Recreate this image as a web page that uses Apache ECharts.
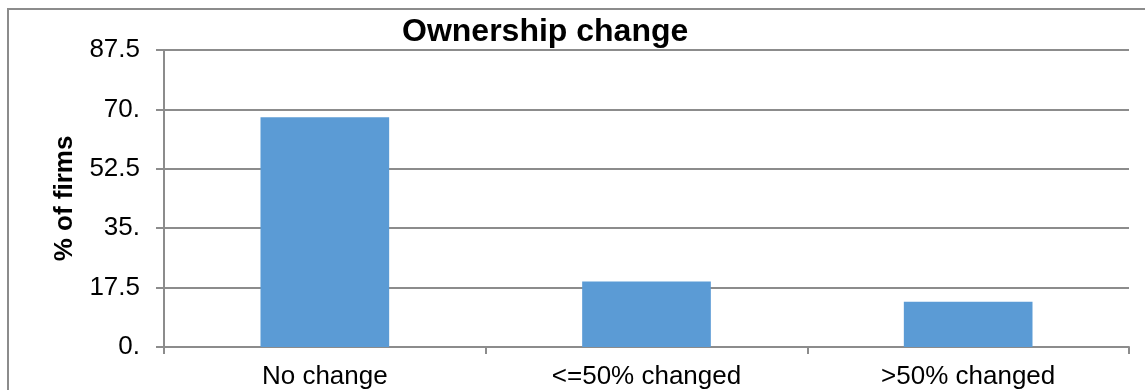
<!DOCTYPE html>
<html>
<head>
<meta charset="utf-8">
<script src="https://cdn.jsdelivr.net/npm/echarts@6/dist/echarts.min.js"></script>
<style>
  html, body { margin: 0; padding: 0; background: #ffffff; }
  #chart { width: 1145px; height: 390px; }
</style>
</head>
<body>
<div id="chart"></div>
<script>
// Share of firms by type of ownership change
const categories = ['No change', '<=50% changed', '>50% changed'];
const percentFirms = [67.7, 19.3, 13.3];
const yTickLabels = ['0.', '17.5', '35.', '52.5', '70.', '87.5'];

const gray = '#8c8c8c';
const font = '"Liberation Sans", Arial, sans-serif';

const chart = echarts.init(document.getElementById('chart'));
chart.setOption({
  animation: false,
  backgroundColor: '#ffffff',
  title: {
    text: 'Ownership change',
    left: 397,
    top: 11,
    textStyle: { fontFamily: font, fontSize: 32, fontWeight: 'bold', color: '#000000' }
  },
  graphic: [{
    type: 'rect',
    shape: { x: 8, y: 9, width: 1200, height: 500 },
    style: { fill: 'none', stroke: gray, lineWidth: 2 },
    silent: true,
    z: -1
  }],
  grid: { left: 164, right: 16, top: 50, bottom: 42.5, containLabel: false },
  xAxis: {
    type: 'category',
    data: categories,
    boundaryGap: true,
    axisLine: { lineStyle: { color: gray, width: 2 } },
    axisTick: { show: true, length: 7, lineStyle: { color: gray, width: 2 } },
    axisLabel: { margin: 17, fontFamily: font, fontSize: 26, color: '#000000' },
    splitLine: { show: false }
  },
  yAxis: {
    type: 'value',
    min: 0,
    max: 87.5,
    interval: 17.5,
    name: '% of firms',
    nameLocation: 'middle',
    nameRotate: 90,
    nameGap: 86,
    nameTextStyle: { fontFamily: font, fontSize: 26, fontWeight: 'bold', color: '#000000' },
    axisLine: { show: true, lineStyle: { color: gray, width: 2 } },
    axisTick: { show: true, length: 8, lineStyle: { color: gray, width: 2 } },
    axisLabel: {
      margin: 24,
      fontFamily: font,
      fontSize: 26,
      color: '#000000',
      formatter: (v) => yTickLabels[Math.round(v / 17.5)]
    },
    splitLine: { show: true, lineStyle: { color: gray, width: 2 } }
  },
  series: [{
    type: 'bar',
    data: percentFirms,
    barWidth: '40%',
    itemStyle: { color: '#5b9bd5' }
  }]
});
</script>
</body>
</html>
